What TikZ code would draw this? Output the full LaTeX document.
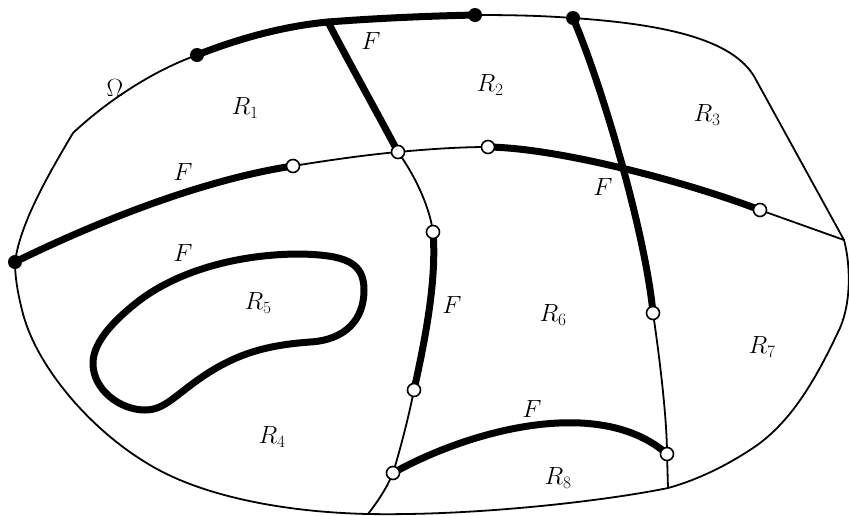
\documentclass[tikz,border=0pt]{standalone}
\usepackage{amsmath}

\begin{document}
\begin{tikzpicture}[
    x=1pt, y=-1pt,
    rim/.style={line width=1.8pt, line join=round, line cap=round},
    cut/.style={line width=7pt, line join=round, line cap=round},
    opendot/.style={circle, draw, line width=1.6pt, fill=white, inner sep=0pt, minimum size=13pt},
    fulldot/.style={circle, fill=black, inner sep=0pt, minimum size=14pt},
    lbl/.style={font=\fontsize{25}{29}\selectfont}
]
\useasboundingbox (0,0) rectangle (849,515);

% junction points
\coordinate (w) at (15,262);
\coordinate (nw) at (73,133);
\coordinate (t0) at (197,55);
\coordinate (t1) at (328,22);
\coordinate (t3) at (475,15);
\coordinate (t2) at (573,18);
\coordinate (ne) at (755,78);
\coordinate (e) at (844,240);
\coordinate (s) at (668,488);
\coordinate (bot) at (368,514);
\coordinate (a1) at (293,166);
\coordinate (c0) at (398,152);
\coordinate (a2) at (488,147);
\coordinate (a3) at (760,210);
\coordinate (c1) at (433,232);
\coordinate (c2) at (414,390);
\coordinate (c3) at (393,473);
\coordinate (d1) at (653,313);
\coordinate (d2) at (667,454);

% outer boundary
\draw[rim] (w) .. controls (20,225) and (45,180) .. (nw)
    .. controls (105,103) and (150,72) .. (t0);
\draw[cut] (t0) .. controls (240,38) and (285,26) .. (t1)
    .. controls (380,18) and (430,16) .. (t3);
\draw[rim] (t3) .. controls (520,15) and (545,16) .. (t2)
    .. controls (660,24) and (733,38) .. (ne) -- (e);
\draw[rim] (e) .. controls (850,262) and (852,300) .. (840,328)
    .. controls (820,370) and (795,420) .. (753,448)
    .. controls (720,470) and (690,482) .. (s)
    .. controls (610,500) and (480,516) .. (bot)
    .. controls (280,512) and (200,495) .. (150,465)
    .. controls (90,430) and (35,365) .. (22,310)
    .. controls (17,290) and (15,275) .. (w);

% dividing curves
\draw[cut] (w) .. controls (90,225) and (200,180) .. (a1);
\draw[rim] (a1) .. controls (330,160) and (365,155) .. (c0)
    .. controls (430,149) and (460,147) .. (a2);
\draw[cut] (a2) .. controls (560,148) and (690,183) .. (a3);
\draw[rim] (a3) -- (e);
\draw[cut] (t1) .. controls (345,55) and (380,118) .. (c0);
\draw[rim] (c0) .. controls (418,180) and (430,210) .. (c1);
\draw[cut] (c1) .. controls (437,280) and (425,340) .. (c2);
\draw[rim] (c2) .. controls (408,420) and (400,450) .. (c3)
    .. controls (386,490) and (375,505) .. (bot);
\draw[cut] (t2) .. controls (600,80) and (645,230) .. (d1);
\draw[rim] (d1) .. controls (660,360) and (667,420) .. (d2) -- (s);
\draw[cut] (c3) .. controls (470,430) and (600,395) .. (d2);

% closed curve round R5
\draw[cut] (364,290) .. controls (364,262) and (345,255) .. (300,254)
    .. controls (240,254) and (180,270) .. (140,300)
    .. controls (110,323) and (92,345) .. (93,365)
    .. controls (94,390) and (120,410) .. (145,410)
    .. controls (165,410) and (175,395) .. (205,375)
    .. controls (240,352) and (270,345) .. (310,342)
    .. controls (345,340) and (364,320) .. cycle;

% end points
\node[fulldot] (dw) at (w) {};
\node[fulldot] (dt0) at (t0) {};
\node[fulldot] (dt3) at (t3) {};
\node[fulldot] (dt2) at (t2) {};
\node[opendot] (da1) at (a1) {};
\node[opendot] (dc0) at (c0) {};
\node[opendot] (da2) at (a2) {};
\node[opendot] (da3) at (a3) {};
\node[opendot] (dc1) at (c1) {};
\node[opendot] (dc2) at (c2) {};
\node[opendot] (dc3) at (c3) {};
\node[opendot] (dd1) at (d1) {};
\node[opendot] (dd2) at (d2) {};

% labels
\node[lbl] (omega) at (115,88) {$\Omega$};
\node[lbl] (r1) at (245,108) {$R_1$};
\node[lbl] (r2) at (490,85) {$R_2$};
\node[lbl] (r3) at (707,115) {$R_3$};
\node[lbl] (r4) at (272,437) {$R_4$};
\node[lbl] (r5) at (258,303) {$R_5$};
\node[lbl] (r6) at (553,315) {$R_6$};
\node[lbl] (r7) at (762,347) {$R_7$};
\node[lbl] (r8) at (558,478) {$R_8$};
\node[lbl] (f1) at (371,41) {$F$};
\node[lbl] (f2) at (183,172) {$F$};
\node[lbl] (f3) at (603,187) {$F$};
\node[lbl] (f4) at (183,253) {$F$};
\node[lbl] (f5) at (452,305) {$F$};
\node[lbl] (f6) at (532,409) {$F$};

\end{tikzpicture}
\end{document}
